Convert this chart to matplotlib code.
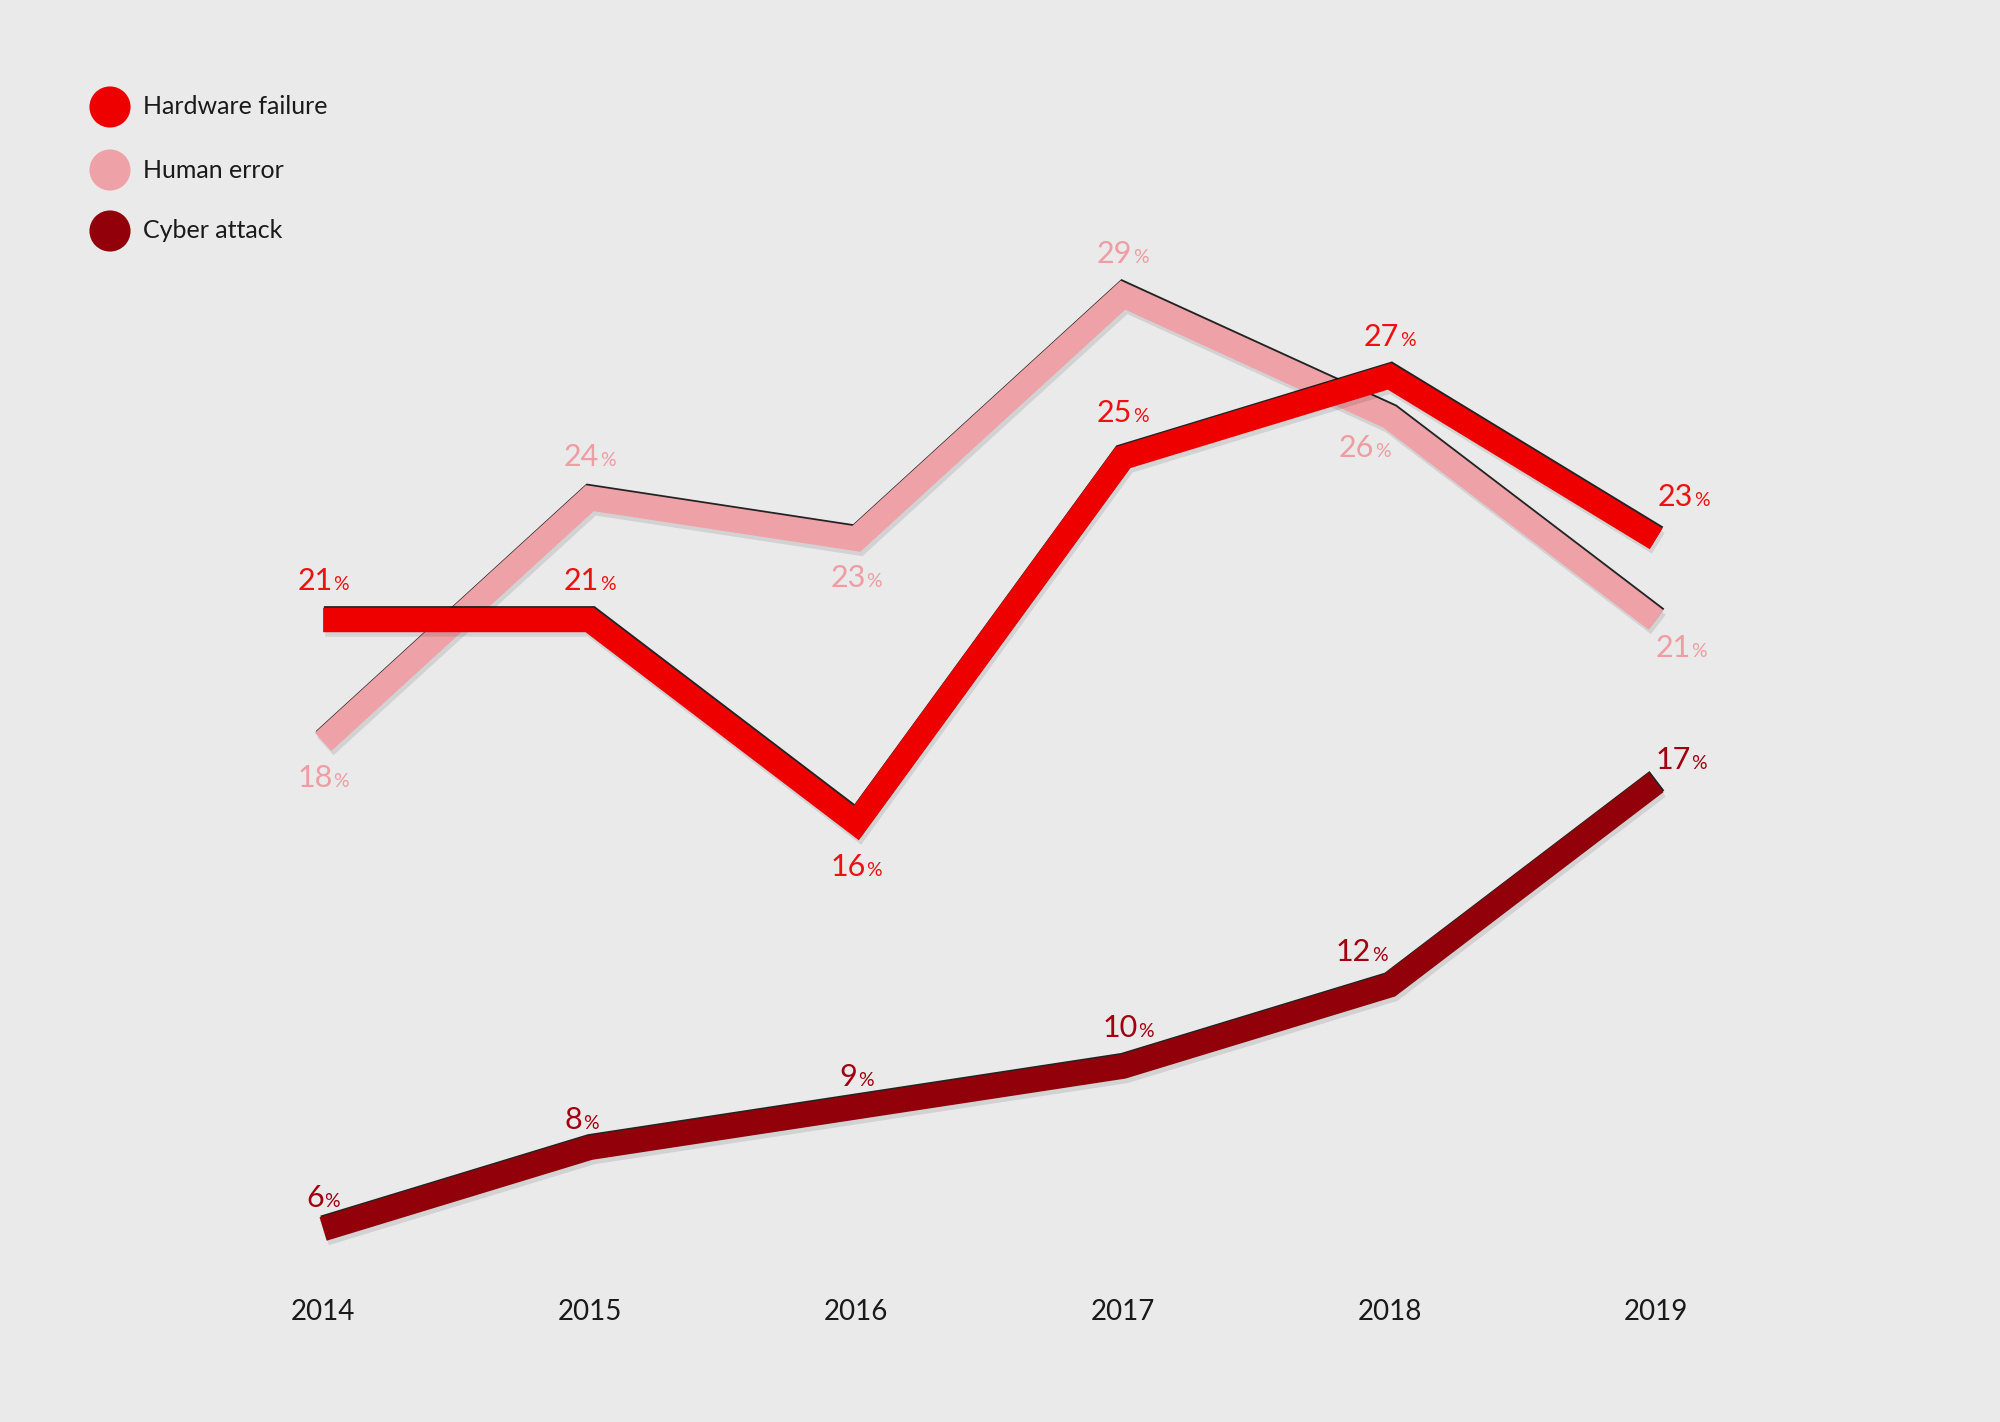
import matplotlib
matplotlib.use("Agg")
import matplotlib.pyplot as plt
import matplotlib.patheffects as pe
from matplotlib.offsetbox import TextArea, HPacker, AnnotationBbox

plt.rcParams['font.family'] = ['Lato', 'DejaVu Sans']

years = [2014, 2015, 2016, 2017, 2018, 2019]
hardware = [21, 21, 16, 25, 27, 23]
human = [18, 24, 23, 29, 26, 21]
cyber = [6, 8, 9, 10, 12, 17]
series_names = ["Hardware failure", "Human error", "Cyber attack"]

line_colors = ["#ee0000", "#eea2a7", "#92000a"]
label_colors = ["#ee1111", "#ef9ca2", "#a0000f"]
bg = "#eaeaea"

# label offsets (points): (dx, dy)
offsets = {
    "Hardware failure": [(0, 14), (0, 14), (0, -16), (0, 16), (0, 14), (10, 15)],
    "Human error": [(0, -13), (0, 15), (0, -14), (0, 15), (-9, -11), (9, -10)],
    "Cyber attack": [(0, 11), (-3, 10), (0, 11), (2, 14), (-10, 12), (9, 8)],
}

fig = plt.figure(figsize=(10, 7.11), dpi=200)
fig.patch.set_facecolor(bg)
ax = fig.add_axes([0, 0.0963, 1, 0.9037])
ax.set_facecolor(bg)
ax.set_xlim(2012.788, 2020.290)
ax.set_ylim(4.62, 36.27)
for s in ax.spines.values():
    s.set_visible(False)
ax.set_yticks([])
ax.set_xticks(years)
ax.set_xticklabels([str(y) for y in years], fontsize=10, color="#1a1a1a")
ax.tick_params(axis='x', length=0, pad=5)

effects = [
    pe.SimpleLineShadow(offset=(0.8, -1.6), shadow_color="#000000", alpha=0.10),
    pe.SimpleLineShadow(offset=(0.3, 0.6), shadow_color="#000000", alpha=0.85),
    pe.Normal(),
]

order = [(human, 1), (hardware, 0), (cyber, 2)]
z = 2
for vals, i in order:
    ax.plot(years, vals, color=line_colors[i], lw=8.8, solid_capstyle='butt',
            solid_joinstyle='miter', path_effects=effects, zorder=z)
    z += 1

all_series = [hardware, human, cyber]
for i, vals in enumerate(all_series):
    name = series_names[i]
    for j, (x, v) in enumerate(zip(years, vals)):
        dx, dy = offsets[name][j]
        box = HPacker(children=[
            TextArea(str(v), textprops=dict(size=11, color=label_colors[i])),
            TextArea("%", textprops=dict(size=7, color=label_colors[i])),
        ], align="baseline", pad=0, sep=0.2)
        ab = AnnotationBbox(box, (x, v), xybox=(dx, dy), boxcoords="offset points",
                            frameon=False, box_alignment=(0.5, 0.5), zorder=10)
        ax.add_artist(ab)

# legend
leg_y = [1 - 107 / 1422, 1 - 170 / 1422, 1 - 231 / 1422]
for i, name in enumerate(series_names):
    fig.add_artist(plt.Line2D([110 / 2000], [leg_y[i]], marker='o', markersize=14.8,
                              markerfacecolor=line_colors[i], markeredgewidth=0,
                              linestyle='none', transform=fig.transFigure,
                              path_effects=[pe.SimpleLineShadow(offset=(-0.8, -1.2), shadow_color='#000', alpha=0.12),
                                            pe.SimpleLineShadow(offset=(0.4, 0.5), shadow_color='#000', alpha=0.7),
                                            pe.Normal()]))
    fig.text(143 / 2000, leg_y[i], name, fontsize=9, color="#1a1a1a", va='center', ha='left')

fig.savefig("out.png", dpi=200, facecolor=bg)
